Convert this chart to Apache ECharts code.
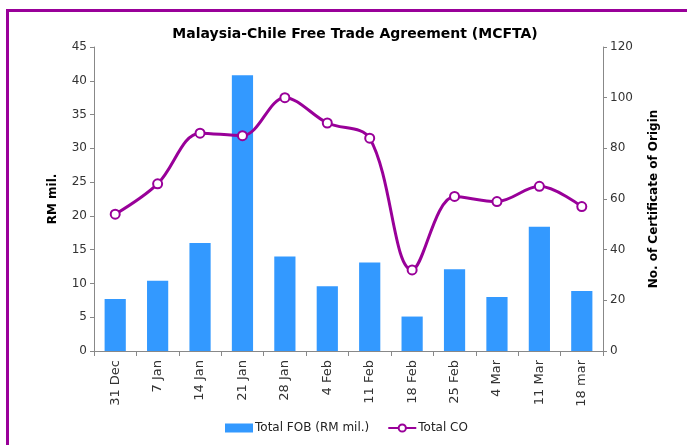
<!DOCTYPE html>
<html>
<head>
    <meta charset="utf-8">
    <title>MCFTA</title>
    <script src="https://cdn.jsdelivr.net/npm/echarts@6/dist/echarts.min.js"></script>
    <style>
        html, body { margin: 0; padding: 0; background: #fff; }
        #main { width: 687px; height: 445px; }
    </style>
</head>
<body>
<div id="main"></div>
<script>
    // data
    var weeks = ['31 Dec', '7 Jan', '14 Jan', '21 Jan', '28 Jan', '4 Feb', '11 Feb', '18 Feb', '25 Feb', '4 Mar', '11 Mar', '18 mar'];
    var totalFob = [7.7, 10.4, 16.0, 40.8, 14.0, 9.6, 13.1, 5.1, 12.1, 8.0, 18.4, 8.9];
    var totalCo = [54, 66, 86, 85, 100, 90, 84, 32, 61, 59, 65, 57];

    var font = '"DejaVu Sans", sans-serif';
    var myChart = echarts.init(document.getElementById('main'));

    var option = {
        animation: false,
        textStyle: { fontFamily: font },
        title: {
            text: 'Malaysia-Chile Free Trade Agreement (MCFTA)',
            left: 350,
            textAlign: 'center',
            top: 22,
            textStyle: { fontSize: 14, fontWeight: 'bold', color: '#000', fontFamily: font }
        },
        graphic: [{
            type: 'polyline',
            shape: { points: [[7.5, 445], [7.5, 10.5], [687, 10.5]] },
            style: { stroke: '#990099', lineWidth: 3, fill: null }
        }],
        legend: {
            bottom: 6,
            left: 220,
            itemGap: 18,
            itemWidth: 28,
            itemHeight: 9,
            textStyle: { fontSize: 12, color: '#222', padding: [0, 0, 0, -3], fontFamily: font },
            data: [
                { name: 'Total FOB (RM mil.)', icon: 'rect' },
                { name: 'Total CO' }
            ]
        },
        grid: { left: 94, right: 84, top: 47, bottom: 94 },
        xAxis: {
            type: 'category',
            data: weeks,
            axisLine: { lineStyle: { color: '#888' } },
            axisTick: { show: true, length: 5, lineStyle: { color: '#888' } },
            axisLabel: { rotate: 90, fontSize: 13, color: '#333', margin: 9 }
        },
        yAxis: [{
            type: 'value',
            min: 0, max: 45, interval: 5,
            name: 'RM mil.',
            nameLocation: 'middle',
            nameGap: 35,
            nameTextStyle: { fontSize: 12, fontWeight: 'bold', color: '#000' },
            axisLine: { show: true, lineStyle: { color: '#888' } },
            axisTick: { show: true, length: 4, lineStyle: { color: '#888' } },
            axisLabel: { fontSize: 12, color: '#333', margin: 7 },
            splitLine: { show: false }
        }, {
            type: 'value',
            min: 0, max: 120, interval: 20,
            name: 'No. of Certificate of Origin',
            nameLocation: 'middle',
            nameGap: 45,
            nameRotate: 90,
            nameTextStyle: { fontSize: 12, fontWeight: 'bold', color: '#000' },
            axisLine: { show: true, lineStyle: { color: '#888' } },
            axisTick: { show: true, length: 4, lineStyle: { color: '#888' } },
            axisLabel: { fontSize: 12, color: '#333', margin: 7 },
            splitLine: { show: false }
        }],
        series: [{
            name: 'Total FOB (RM mil.)',
            type: 'bar',
            yAxisIndex: 0,
            barWidth: '50%',
            itemStyle: { color: '#3399FF' },
            data: totalFob
        }, {
            name: 'Total CO',
            type: 'line',
            yAxisIndex: 1,
            smooth: 0.35,
            symbol: 'circle',
            symbolSize: 9,
            lineStyle: { color: '#990099', width: 3 },
            itemStyle: { color: '#fff', borderColor: '#990099', borderWidth: 2 },
            data: totalCo
        }]
    };
    myChart.setOption(option);
</script>
</body>
</html>
